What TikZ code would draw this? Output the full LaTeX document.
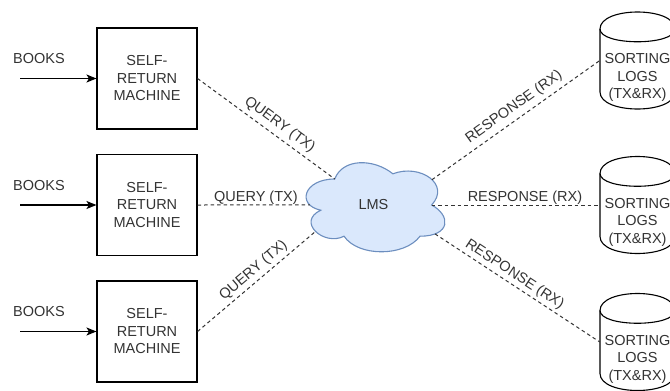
\documentclass[tikz,border=0pt]{standalone}
\usepackage{fontspec}
\setmainfont{Liberation Sans}
\usetikzlibrary{arrows.meta}
\definecolor{cloudfill}{HTML}{DAE8FC}
\definecolor{cloudline}{HTML}{6C8EBF}
\definecolor{ink}{HTML}{333333}

\tikzset{
  % storage cylinder with its label; the invisible body node carries the anchors
  logstore/.pic={
    \path[draw=black, line width=1.1pt, fill=white]
      (-37.5,-31.5) .. controls (-37.5,-54.17) and (37.5,-54.17) .. (37.5,-31.5)
      -- (37.5,31.5) .. controls (37.5,54.17) and (-37.5,54.17) .. (-37.5,31.5) -- cycle;
    \draw[black, line width=1.1pt]
      (-37.5,-31.5) .. controls (-37.5,-14.5) and (37.5,-14.5) .. (37.5,-31.5);
    \node[minimum width=75pt, minimum height=97pt, inner sep=0pt] (-body) at (0,0) {};
    \node[txt] (-label) at (0,17) {SORTING\\LOGS\\(TX\&RX)};
  }
}

\begin{document}
\begin{tikzpicture}[x=1pt,y=-1pt,
  txt/.style={font=\fontsize{14.5}{17.5}\selectfont, text=ink, align=center, inner sep=0pt},
  machine/.style={draw=black, line width=1.1pt, minimum width=100pt, minimum height=101pt,
                  inner sep=0pt, txt},
  feed/.style={-{Stealth[length=10pt,width=8pt,inset=2.5pt]}, line width=1.1pt, black},
  link/.style={draw=ink, line width=1pt, dash pattern=on 3.5pt off 3pt},
  lbl/.style={txt, sloped, above=#1},
  lbl/.default=3pt
]
\useasboundingbox (0,0) rectangle (670,391);

% return machines with their book feeds
\node[machine] (m1) at (147,78.5)  {SELF-\\RETURN\\MACHINE};
\node[machine] (m2) at (147,205)   {SELF-\\RETURN\\MACHINE};
\node[machine] (m3) at (147,331.5) {SELF-\\RETURN\\MACHINE};

\node[txt] (b1) at (39,59)  {BOOKS};
\node[txt] (b2) at (39,186) {BOOKS};
\node[txt] (b3) at (39,312) {BOOKS};

\coordinate (f1) at (20,78.5);
\coordinate (f2) at (20,205);
\coordinate (f3) at (20,331.5);
\draw[feed] (f1) -- (m1.west);
\draw[feed] (f2) -- (m2.west);
\draw[feed] (f3) -- (m3.west);

% LMS cloud
\begin{scope}[shift={(296pt,-153pt)}, x=155pt, y=-104pt]
  \path[draw=cloudline, fill=cloudfill, line width=1.1pt]
    (0.25,0.25) .. controls (0.05,0.25) and (0,0.5) .. (0.16,0.55)
    .. controls (0,0.66) and (0.18,0.9) .. (0.31,0.8)
    .. controls (0.4,1) and (0.7,1) .. (0.8,0.8)
    .. controls (1,0.8) and (1,0.6) .. (0.875,0.5)
    .. controls (1,0.3) and (0.8,0.1) .. (0.625,0.2)
    .. controls (0.5,0.05) and (0.3,0.05) .. (0.25,0.25) -- cycle;
  \coordinate (lmsNW) at (0.25,0.25);
  \coordinate (lmsW)  at (0.0887,0.4996);
  \coordinate (lmsSW) at (0.126,0.754);
  \coordinate (lmsNE) at (0.877,0.257);
  \coordinate (lmsE)  at (0.875,0.5);
  \coordinate (lmsSE) at (0.897,0.778);
\end{scope}
\node[txt] (lms) at (373.5,205) {LMS};

% sorting log stores
\pic (c1) at (637.5,60.5) {logstore};
\pic (c2) at (637.5,205)  {logstore};
\pic (c3) at (637.5,342)  {logstore};

% query and response links
\draw[link] (m1.east) -- node[lbl=4pt, pos=0.55] {QUERY (TX)} (lmsNW);
\draw[link] (m2.east) -- node[lbl=0pt, pos=0.52] {QUERY (TX)} (lmsW);
\draw[link] (m3.east) -- node[lbl=3pt, pos=0.53] {QUERY (TX)} (lmsSW);
\draw[link] (lmsNE) -- node[lbl=4.5pt, pos=0.53] {RESPONSE (RX)} (c1-body.west);
\draw[link] (lmsE)  -- node[lbl=0pt, pos=0.555] {RESPONSE (RX)} (c2-body.west);
\draw[link] (lmsSE) -- node[lbl=2.5pt, pos=0.45] {RESPONSE (RX)} (c3-body.west);
\end{tikzpicture}
\end{document}
